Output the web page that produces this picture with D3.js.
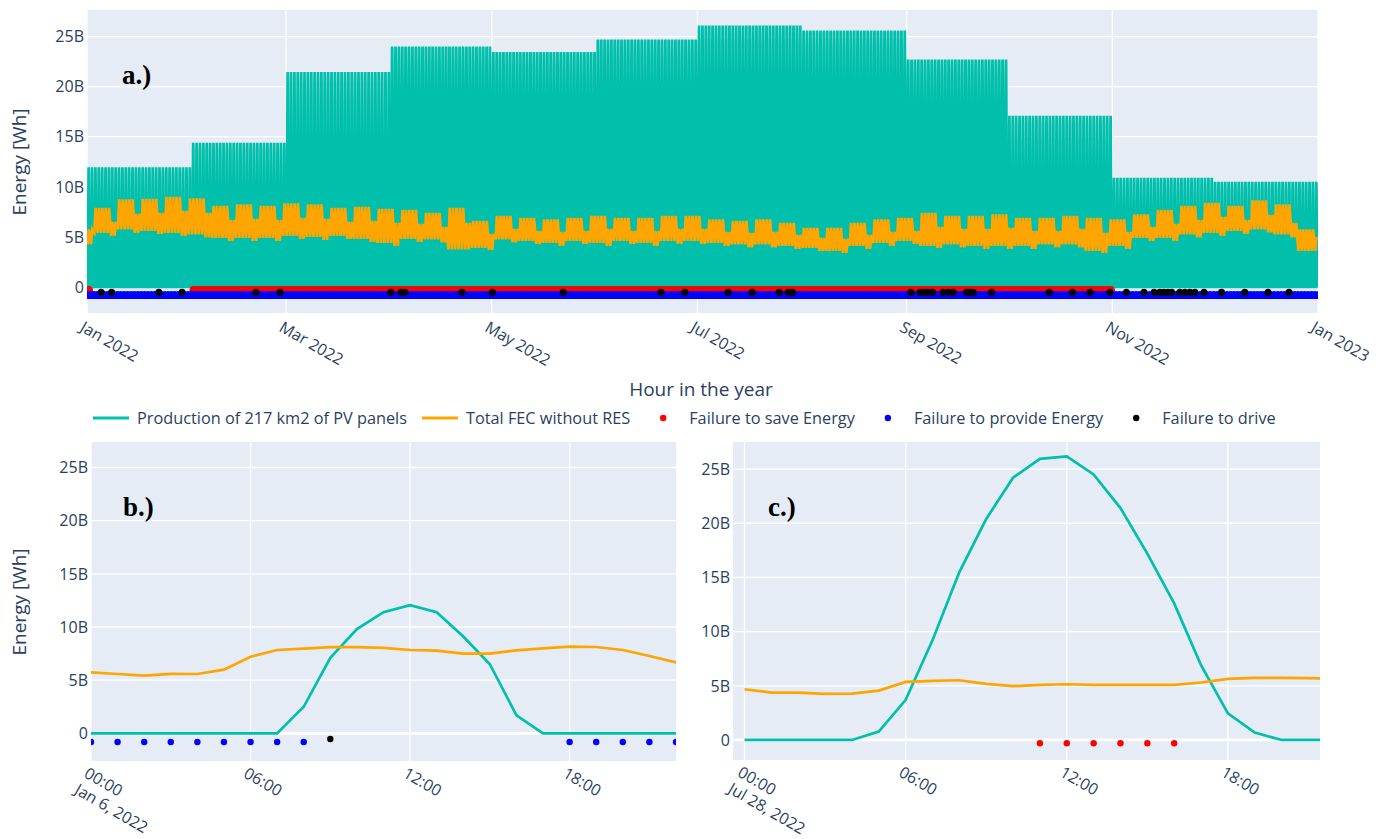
<!DOCTYPE html>
<html>
<head>
<meta charset="utf-8">
<script src="https://cdn.jsdelivr.net/npm/d3@7"></script>
<style>
  body { margin: 0; background: #fff; }
  text { font-family: "Open Sans", sans-serif; fill: #2a3f5f; }
</style>
</head>
<body>
<div id="chart"></div>
<script>
// ---------- data (energy in billions of Wh) ----------

// year view: every day of a month repeats the same PV profile, so the envelope is flat per month
const monthNames = ["Jan", "Feb", "Mar", "Apr", "May", "Jun", "Jul", "Aug", "Sep", "Oct", "Nov", "Dec"];
const pvMonthPeak = [11.95, 14.4, 21.45, 24.0, 23.45, 24.7, 26.1, 25.6, 22.7, 17.1, 10.9, 10.5];

// FEC band per week (week 0 = Sat/Sun Jan 1-2, week 1 starts Mon Jan 3)
const fecWeekTop = [5.75, 7.9, 8.75, 8.8, 9.0, 8.85, 8.1, 8.25, 8.1, 8.35, 8.25, 7.9, 8.0, 7.8, 7.7, 7.4, 7.9,
  6.6, 7.1, 6.9, 6.75, 6.9, 7.1, 6.9, 6.9, 7.1, 7.1, 6.75, 6.6, 6.75, 6.4, 5.9, 5.9, 6.4, 6.75, 6.9,
  7.4, 7.1, 7.1, 7.25, 6.9, 6.9, 7.1, 6.9, 6.75, 7.25, 7.7, 8.1, 8.4, 8.1, 8.65, 8.25, 5.75];
const fecWeekBottom = [4.25, 5.4, 5.75, 5.6, 5.4, 5.25, 4.9, 4.9, 4.9, 5.1, 5.0, 5.1, 4.8, 4.4, 4.8, 4.75, 3.75,
  3.9, 4.75, 4.6, 4.4, 4.6, 4.4, 4.6, 4.4, 4.6, 4.6, 4.4, 4.25, 4.25, 4.1, 3.9, 3.6, 4.1, 4.4, 4.6,
  4.1, 4.25, 4.1, 4.1, 4.1, 4.25, 4.25, 3.6, 4.1, 4.9, 4.9, 5.25, 5.4, 5.6, 5.75, 5.25, 3.6];
const fecWeekendTop = [5.75, 6.5, 7.3, 7.4, 7.6, 7.4, 6.7, 6.8, 6.7, 6.9, 6.8, 6.5, 6.6, 6.4, 6.3, 6.0, 6.4,
  5.3, 5.8, 5.6, 5.5, 5.6, 5.8, 5.6, 5.6, 5.8, 5.8, 5.5, 5.4, 5.5, 5.2, 4.9, 4.8, 5.2, 5.5, 5.6,
  6.0, 5.8, 5.8, 5.9, 5.6, 5.6, 5.8, 5.4, 5.5, 6.0, 6.3, 6.7, 7.0, 6.7, 7.2, 6.4, 5.0];
const fecWeekendBottom = [4.25, 5.1, 5.4, 5.3, 5.1, 4.95, 4.6, 4.6, 4.6, 4.8, 4.7, 4.8, 4.5, 4.1, 4.5, 4.45, 3.75,
  3.7, 4.45, 4.3, 4.1, 4.3, 4.1, 4.3, 4.1, 4.3, 4.3, 4.1, 3.95, 3.95, 3.8, 3.6, 3.4, 3.8, 4.1, 4.3,
  3.9, 3.95, 3.8, 3.8, 3.8, 3.95, 3.95, 3.4, 3.8, 4.6, 4.6, 4.95, 5.1, 5.3, 5.45, 4.95, 3.6];

// failure days of the year (day 0 = Jan 1)
const saveFailDayRanges = [[0, 0], [31, 303]];
const provideFailDayRanges = [[0, 364]];
const driveFailDays = [4.2, 7.3, 21.3, 28.2, 50.1, 57.2, 90.1, 93.1, 94.3, 111.2, 120.2, 141.2, 170.2,
  177.3, 190.1, 197.2, 205.2, 207.9, 209.2, 244.3, 247.0, 248.2, 249.4, 250.7, 253.8, 255.3, 256.8,
  260.8, 261.8, 262.8, 268.2, 285.3, 292.2, 297.4, 303.3, 308.2, 313.4, 316.4, 318.1, 319.3, 320.5,
  321.6, 324.0, 325.5, 327.0, 328.5, 331.2, 336.4, 343.3, 350.2, 356.4];

// level at which each failure kind is drawn
const saveFailLevel = -0.31;
const provideFailLevel = -0.82;
const driveFailLevel = -0.53;

// day view b.) Jan 6, 2022
const janHours = [0, 1, 2, 3, 4, 5, 6, 7, 8, 9, 10, 11, 12, 13, 14, 15, 16, 17, 18, 19, 20, 21, 22];
const janPV = [0, 0, 0, 0, 0, 0, 0, 0, 2.5, 7.1, 9.8, 11.4, 12.05, 11.4, 9.1, 6.5, 1.7, 0, 0, 0, 0, 0, 0];
const janFEC = [5.74, 5.58, 5.43, 5.6, 5.58, 5.99, 7.2, 7.84, 7.97, 8.1, 8.1, 8.03, 7.84, 7.78, 7.5, 7.5,
  7.81, 8.0, 8.16, 8.12, 7.84, 7.28, 6.68];
const janProvideFailHours = [0, 1, 2, 3, 4, 5, 6, 7, 8, 18, 19, 20, 21, 22];
const janDriveFailHours = [9];

// day view c.) Jul 28, 2022
const julHours = [0, 1, 2, 3, 4, 5, 6, 7, 8, 9, 10, 11, 12, 13, 14, 15, 16, 17, 18, 19, 20, 21, 22];
const julPV = [0, 0, 0, 0, 0, 0.77, 3.7, 9.2, 15.5, 20.4, 24.2, 25.95, 26.17, 24.5, 21.4, 17.2, 12.6,
  6.9, 2.46, 0.68, 0, 0, 0];
const julFEC = [4.68, 4.37, 4.37, 4.25, 4.28, 4.56, 5.36, 5.45, 5.51, 5.17, 4.96, 5.08, 5.14, 5.08, 5.08,
  5.08, 5.08, 5.3, 5.63, 5.73, 5.73, 5.7, 5.65];
const julSaveFailHours = [11, 12, 13, 14, 15, 16];

const yTicks = [0, 5, 10, 15, 20, 25];
const yearTickMonths = ["2022-01-01", "2022-03-01", "2022-05-01", "2022-07-01", "2022-09-01", "2022-11-01", "2023-01-01"];
const hourTicks = [0, 6, 12, 18];
const hourTickLabels = ["00:00", "06:00", "12:00", "18:00"];

const seriesNames = ["Production of 217 km2 of PV panels", "Total FEC without RES",
  "Failure to save Energy", "Failure to provide Energy", "Failure to drive"];

// ---------- styles ----------
const pvColor = "#00bfab";
const fecColor = "#ffa500";
const saveColor = "#ff0000";
const provideColor = "#0000ff";
const driveColor = "#000000";
const bgColor = "#e5ecf6";
const lineW = 2.7;

const W = 1397, H = 839;
const svg = d3.select("#chart").append("svg").attr("width", W).attr("height", H);

const t0 = Date.UTC(2022, 0, 1);
const dayToDate = d => new Date(t0 + d * 864e5);

const boxA = {l: 87, r: 1318, t: 10, b: 313};
const boxB = {l: 91, r: 676, t: 442, b: 761};
const boxC = {l: 733, r: 1320, t: 442, b: 760};

const xA = d3.scaleUtc().domain([dayToDate(0), dayToDate(365)]).range([boxA.l, boxA.r]);
const yA = d3.scaleLinear().domain([-2.6, 27.65]).range([boxA.b, boxA.t]);
const xB = d3.scaleLinear().domain([0, 22]).range([boxB.l, boxB.r]);
const yB = d3.scaleLinear().domain([-2.6, 27.4]).range([boxB.b, boxB.t]);
const xC = d3.scaleLinear().domain([-0.43, 21.43]).range([boxC.l, boxC.r]);
const yC = d3.scaleLinear().domain([-1.85, 27.5]).range([boxC.b, boxC.t]);

const fmtB = v => v === 0 ? "0" : v + "B";

// background, grid, y labels and a clipped group for the marks
function frame(box, x, y, xTickPos, id) {
  svg.append("rect").attr("x", box.l).attr("y", box.t)
    .attr("width", box.r - box.l).attr("height", box.b - box.t).attr("fill", bgColor);

  svg.append("g").selectAll("line").data(yTicks.filter(v => v !== 0)).join("line")
    .attr("x1", box.l).attr("x2", box.r)
    .attr("y1", d => y(d)).attr("y2", d => y(d))
    .attr("stroke", "#fff").attr("stroke-width", 1.3);

  svg.append("g").selectAll("line").data(xTickPos).join("line")
    .attr("x1", d => d).attr("x2", d => d)
    .attr("y1", box.t).attr("y2", box.b)
    .attr("stroke", "#fff").attr("stroke-width", 1.3);

  svg.append("line").attr("x1", box.l).attr("x2", box.r)
    .attr("y1", y(0)).attr("y2", y(0))
    .attr("stroke", "#fff").attr("stroke-width", 2.7);

  svg.append("g").selectAll("text").data(yTicks).join("text")
    .attr("x", box.l - 3).attr("y", d => y(d)).attr("dy", "0.36em")
    .attr("text-anchor", "end").style("font-size", "16px")
    .text(fmtB);

  svg.append("clipPath").attr("id", id).append("rect")
    .attr("x", box.l).attr("y", box.t)
    .attr("width", box.r - box.l).attr("height", box.b - box.t);

  return svg.append("g").attr("clip-path", `url(#${id})`);
}

// x tick labels, rotated like the source
function rotatedLabels(positions, labelLines, yTop) {
  positions.forEach((px, i) => {
    const t = svg.append("text")
      .attr("transform", `translate(${px - 2},${yTop}) rotate(30)`)
      .style("font-size", "16px");
    labelLines[i].forEach((ln, j) => {
      t.append("tspan").attr("x", 0).attr("dy", j === 0 ? "0.75em" : "1.2em").text(ln);
    });
  });
}

// ---------- a.) the whole year ----------
const yearTicks = yearTickMonths.map(s => new Date(s + "T00:00:00Z"));
const gA = frame(boxA, xA, yA, yearTicks.map(d => xA(d)), "clipA");

const pvYear = [];
for (let d = 0; d < 365; d++) {
  const m = dayToDate(d).getUTCMonth();
  const shape = (m >= 3 && m <= 8) ? julPV : janPV;
  const shapeMax = d3.max(shape);
  shape.forEach((v, h) => pvYear.push({t: d + h / 24, v: v / shapeMax * pvMonthPeak[m]}));
}

// daily low (night) and high (day) of the consumption
const fecYear = [];
for (let d = 0; d < 365; d++) {
  const week = Math.floor((d + 5) / 7);
  const weekend = (d + 5) % 7 >= 5;
  const lo = weekend ? fecWeekendBottom[week] : fecWeekBottom[week];
  const hi = weekend ? fecWeekendTop[week] : fecWeekTop[week];
  fecYear.push({t: d + 4 / 24, v: lo}, {t: d + 13 / 24, v: hi});
}

const lineA = d3.line().x(d => xA(dayToDate(d.t))).y(d => yA(d.v));
gA.append("path").datum(pvYear).attr("d", lineA)
  .attr("fill", "none").attr("stroke", pvColor).attr("stroke-width", lineW);
gA.append("path").datum(fecYear).attr("d", lineA)
  .attr("fill", "none").attr("stroke", fecColor).attr("stroke-width", lineW);

function dayHourPoints(ranges, hours) {
  const pts = [];
  ranges.forEach(([a, b]) => {
    for (let d = a; d <= b; d++) hours.forEach(h => pts.push(d + h / 24));
  });
  return pts;
}

const dotsA = [
  {pts: dayHourPoints(saveFailDayRanges, julSaveFailHours), level: saveFailLevel, color: saveColor},
  {pts: dayHourPoints(provideFailDayRanges, janProvideFailHours), level: provideFailLevel, color: provideColor},
  {pts: driveFailDays, level: driveFailLevel, color: driveColor}
];
dotsA.forEach(s => {
  gA.append("g").selectAll("circle").data(s.pts).join("circle")
    .attr("cx", d => xA(dayToDate(d))).attr("cy", yA(s.level))
    .attr("r", 3.5).attr("fill", s.color);
});

rotatedLabels(yearTicks.map(d => xA(d)),
  yearTicks.map(d => [d3.utcFormat("%b %Y")(d)]), boxA.b + 7);

// ---------- b.) and c.) single days ----------
function dayPanel(box, x, y, id, hours, pv, fec, dots, dateLabel) {
  const g = frame(box, x, y, hourTicks.map(h => x(h)), id);
  const line = d3.line().x((d, i) => x(hours[i])).y(d => y(d));
  g.append("path").datum(pv).attr("d", line)
    .attr("fill", "none").attr("stroke", pvColor).attr("stroke-width", lineW);
  g.append("path").datum(fec).attr("d", line)
    .attr("fill", "none").attr("stroke", fecColor).attr("stroke-width", lineW);
  dots.forEach(s => {
    g.append("g").selectAll("circle").data(s.hours).join("circle")
      .attr("cx", d => x(d)).attr("cy", y(s.level)).attr("r", 3.2).attr("fill", s.color);
  });
  rotatedLabels(hourTicks.map(h => x(h)),
    hourTickLabels.map((l, i) => i === 0 ? [l, dateLabel] : [l]), box.b + 5);
}

dayPanel(boxB, xB, yB, "clipB", janHours, janPV, janFEC, [
  {hours: janProvideFailHours, level: provideFailLevel, color: provideColor},
  {hours: janDriveFailHours, level: driveFailLevel, color: driveColor}
], "Jan 6, 2022");

dayPanel(boxC, xC, yC, "clipC", julHours, julPV, julFEC, [
  {hours: julSaveFailHours, level: saveFailLevel, color: saveColor}
], "Jul 28, 2022");

// ---------- titles ----------
svg.append("text").attr("transform", "translate(26,162) rotate(-90)")
  .attr("text-anchor", "middle").style("font-size", "19px").text("Energy [Wh]");
svg.append("text").attr("transform", "translate(26,602) rotate(-90)")
  .attr("text-anchor", "middle").style("font-size", "19px").text("Energy [Wh]");
svg.append("text").attr("x", 701).attr("y", 396)
  .attr("text-anchor", "middle").style("font-size", "19px").text("Hour in the year");

[["a.)", 122, 84], ["b.)", 123, 516], ["c.)", 768, 516]].forEach(([s, x, y]) => {
  svg.append("text").attr("x", x).attr("y", y)
    .style("font-family", "'Liberation Serif', serif").style("font-weight", "bold")
    .style("font-size", "27px").style("fill", "#000").text(s);
});

// ---------- legend ----------
const legendItems = [
  {name: seriesNames[0], kind: "line", color: pvColor},
  {name: seriesNames[1], kind: "line", color: fecColor},
  {name: seriesNames[2], kind: "dot", color: saveColor},
  {name: seriesNames[3], kind: "dot", color: provideColor},
  {name: seriesNames[4], kind: "dot", color: driveColor}
];
const legendY = 418;
let lx = 93;
legendItems.forEach(it => {
  const g = svg.append("g").attr("transform", `translate(${lx},${legendY})`);
  if (it.kind === "line") {
    g.append("line").attr("x1", 0).attr("x2", 36).attr("stroke", it.color).attr("stroke-width", 3);
  } else {
    g.append("circle").attr("cx", 18).attr("r", 3.2).attr("fill", it.color);
  }
  const t = g.append("text").attr("x", 44).attr("dy", "0.35em").style("font-size", "16.3px").text(it.name);
  lx += 44 + t.node().getComputedTextLength() + 15;
});
</script>
</body>
</html>
